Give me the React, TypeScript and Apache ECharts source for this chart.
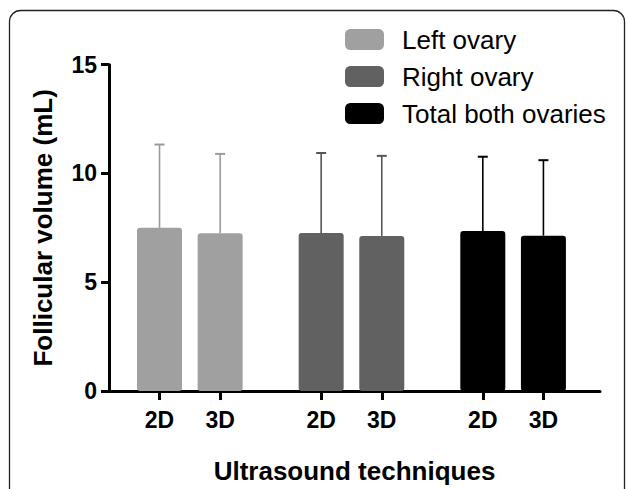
import React, { useEffect, useRef } from "react";
import * as echarts from "echarts";

const groups = ["Left ovary", "Right ovary", "Total both ovaries"];
const techniques = ["2D", "3D"];
// x positions of the six bars on the (hidden-scale) horizontal value axis
const positions = [2.5, 5.5, 10.5, 13.5, 18.5, 21.5];
const xMax = 24.3;
const leftMeans = [7.5, 7.25];
const leftSD = [3.83, 3.65];
const rightMeans = [7.26, 7.13];
const rightSD = [3.68, 3.68];
const totalMeans = [7.36, 7.14];
const totalSD = [3.41, 3.47];
const yTicks = [0, 5, 10, 15];

const barColors = ["#a0a0a0", "#616161", "#000000"];
const errColors = ["#9a9a9a", "#555555", "#000000"];
const FONT = "'Liberation Sans', Arial, Helvetica, sans-serif";

export default function App() {
  const ref = useRef<HTMLDivElement>(null);
  useEffect(() => {
    if (!ref.current) return;
    const chart = echarts.init(ref.current, undefined, { renderer: "svg" });
    const means = [leftMeans, rightMeans, totalMeans];
    const sds = [leftSD, rightSD, totalSD];
    const xLabels = groups.flatMap(() => techniques);

    const barSeries = groups.map((g, gi) => ({
      name: g,
      type: "bar",
      barWidth: 45,
      barGap: "-100%",
      itemStyle: { color: barColors[gi], borderRadius: 3 },
      data: techniques.map((_, ti) => [positions[gi * 2 + ti], means[gi][ti]]),
      z: 2,
    }));

    const errSeries = groups.map((g, gi) => ({
      name: g,
      type: "custom",
      z: 1,
      encode: { x: 0, y: 1 },
      data: techniques.map((_, ti) => [
        positions[gi * 2 + ti],
        means[gi][ti],
        means[gi][ti] + sds[gi][ti],
      ]),
      renderItem: (params: any, api: any) => {
        const x = api.value(0);
        const low = api.coord([x, api.value(1)]);
        const high = api.coord([x, api.value(2)]);
        const c = errColors[gi];
        return {
          type: "group",
          children: [
            {
              type: "line",
              shape: { x1: low[0], y1: low[1], x2: high[0], y2: high[1] },
              style: { stroke: c, lineWidth: 1.6 },
            },
            {
              type: "line",
              shape: { x1: high[0] - 5, y1: high[1], x2: high[0] + 5, y2: high[1] },
              style: { stroke: c, lineWidth: 2 },
            },
          ],
        };
      },
    }));

    chart.setOption({
      animation: false,
      backgroundColor: "#ffffff",
      graphic: [
        {
          type: "rect",
          shape: { x: 9.5, y: 10.5, width: 615, height: 520, r: 11 },
          style: { fill: "none", stroke: "#222222", lineWidth: 1.3 },
          z: -1,
        },
      ],
      legend: {
        data: groups,
        orient: "vertical",
        left: 345,
        top: 26.5,
        padding: 0,
        itemWidth: 39,
        itemHeight: 21,
        itemGap: 11,
        icon: "roundRect",
        textStyle: {
          fontSize: 26,
          color: "#000",
          fontFamily: FONT,
          padding: [0, 0, 0, 13],
        },
      },
      grid: { left: 109, right: 27, top: 64.7, bottom: 97.3, containLabel: false },
      xAxis: {
        type: "value",
        min: 0,
        max: xMax,
        name: "Ultrasound techniques",
        nameLocation: "middle",
        nameGap: 67,
        nameTextStyle: { fontSize: 26, fontWeight: "bold", color: "#000", fontFamily: FONT },
        axisLine: { show: true, onZero: false, lineStyle: { color: "#000", width: 3 } },
        axisTick: {
          show: true,
          customValues: positions,
          length: 9,
          lineStyle: { color: "#000", width: 3 },
        },
        axisLabel: {
          show: true,
          customValues: positions,
          margin: 17,
          fontSize: 23,
          fontWeight: "bold",
          color: "#000",
          fontFamily: FONT,
          formatter: (v: number) => {
            let best = 0;
            positions.forEach((p, i) => {
              if (Math.abs(p - v) < Math.abs(positions[best] - v)) best = i;
            });
            return xLabels[best];
          },
        },
        splitLine: { show: false },
      },
      yAxis: {
        type: "value",
        min: 0,
        max: 15,
        interval: 5,
        name: "Follicular volume (mL)",
        nameLocation: "middle",
        nameRotate: 90,
        nameGap: 53,
        nameTextStyle: { fontSize: 26, fontWeight: "bold", color: "#000", fontFamily: FONT },
        axisLine: { show: true, lineStyle: { color: "#000", width: 3 } },
        axisTick: { show: true, length: 8, lineStyle: { color: "#000", width: 3 } },
        axisLabel: {
          margin: 12,
          fontSize: 23,
          fontWeight: "bold",
          color: "#000",
          fontFamily: FONT,
          formatter: (v: number) => (yTicks.includes(v) ? String(v) : ""),
        },
        splitLine: { show: false },
      },
      series: [...barSeries, ...errSeries],
    });
    return () => chart.dispose();
  }, []);
  return (
    <div
      ref={ref}
      style={{ position: "fixed", left: 0, top: 0, width: 627, height: 489, background: "#fff" }}
    />
  );
}
